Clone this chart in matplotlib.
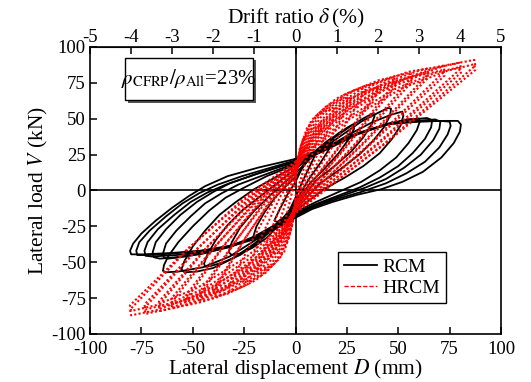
import matplotlib
matplotlib.use('Agg')
import matplotlib.pyplot as plt
from matplotlib.lines import Line2D
from matplotlib.patches import Rectangle

plt.rcParams['font.family'] = ['Liberation Serif', 'DejaVu Serif']
plt.rcParams['mathtext.fontset'] = 'stix'
plt.rcParams['axes.unicode_minus'] = False

# RCM specimen, hysteresis cycles (displacement mm, load kN)
rcm_c1_d = [0, 3, 6, 9, 9.3, 7, 3, 0, -3, -6, -9, -10.3, -8, -4, 0]
rcm_c1_v = [6, 15, 22, 26, 24, 17, 5, -5, -14, -19, -22, -21, -14, -3, 6]
rcm_c2_d = [0, 5, 10, 15, 18, 18.5, 16, 12, 7, 0, -5, -10, -15, -19, -20.5, -19, -15, -10, -4, 0]
rcm_c2_v = [9, 19, 28, 34, 37, 35, 28, 19, 9, -8, -18, -26, -31, -34, -32, -25, -15, -5, 4, 9]
rcm_c3_d = [0, 7, 14, 21, 26, 28, 28.5, 26, 21, 14, 7, 0, -7, -14, -21, -27, -31, -32.5, -31, -27, -20, -12, -5, 0]
rcm_c3_v = [12, 22, 32, 40, 44.5, 46, 43, 36, 26, 15, 5, -10, -22, -33, -40, -44, -45, -43, -36, -26, -14, -3, 6, 12]
rcm_c4_d = [0, 9, 19, 28, 34, 38, 38.5, 37, 33, 27, 19, 10, 0, -9, -18, -27, -35, -41, -44, -44.5, -43, -39, -33, -26, -18, -9, 0]
rcm_c4_v = [15, 25, 37, 46, 51, 54, 52, 46, 37, 27, 17, 7, -12, -24, -36, -45, -50, -52.5, -53, -51, -45, -35, -24, -14, -5, 5, 15]
rcm_c5_d = [0, 10, 22, 32, 40, 45, 46.5, 46, 43, 38, 31, 22, 12, 0, -10, -20, -30, -40, -48, -54, -55.5, -54, -50, -44, -37, -29, -20, -10, 0]
rcm_c5_v = [17, 26, 38, 48, 54, 57.5, 57, 52, 44, 35, 25, 15, 5, -13, -25, -37, -47, -54, -56.5, -57, -55, -49, -39, -28, -17, -8, 1, 9, 17]
rcm_c6_d = [0, 12, 26, 38, 47, 52, 52.5, 51, 47, 41, 33, 24, 14, 0, -10, -20, -32, -45, -57, -63, -64.5, -64, -62, -57, -50, -42, -34, -25, -14, 0]
rcm_c6_v = [18, 27, 39, 48, 53, 55, 52, 45, 36, 26, 17, 9, 1, -14, -24, -35, -46, -53.5, -56.5, -57, -56, -52, -46, -36, -25, -14, -5, 2, 10, 18]
rcm_c7_d = [0, 13, 30, 44, 54, 60, 60.5, 59, 55, 49, 41, 32, 21, 10, 0, -10, -20, -32, -45, -56, -62, -64, -64.5, -63, -58, -51, -44, -36, -28, -15, 0]
rcm_c7_v = [19, 27, 39, 46, 49.5, 50, 48, 42, 33, 23, 14, 6, -1, -8, -15, -24, -32, -39, -44, -46.5, -47.5, -47, -44, -37, -28, -18, -9, -2, 4, 11, 19]
rcm_c8_d = [0, 13, 30, 45, 56, 64, 66.5, 66, 63, 57, 50, 41, 31, 20, 9, 0, -10, -20, -32, -46, -58, -66, -69, -69.5, -68, -63, -56, -48, -40, -32, -18, 0]
rcm_c8_v = [20, 27.5, 39.5, 46.5, 49.5, 50.5, 49, 44, 36, 26, 17, 9, 2, -4, -10, -16, -25, -33, -39.5, -44, -46.5, -47.5, -46.5, -43, -36, -27, -17, -8, -1, 5, 12, 20]
rcm_c9_d = [0, 13, 30, 45, 58, 68, 70.5, 70, 67, 61, 53, 44, 34, 22, 10, 0, -10, -20, -32, -46, -58, -70, -73, -73.5, -72, -67, -59, -51, -43, -34, -20, 0]
rcm_c9_v = [20, 27.5, 39.5, 46.5, 48.5, 49.5, 48, 43, 35, 25, 16, 8, 2, -4, -10, -17, -25.5, -33, -39, -43, -45, -46, -45.5, -42, -36, -27, -17, -8, -1.5, 4, 11, 20]
rcm_c10_d = [0, 13, 30, 45, 58, 70, 75, 75.5, 74, 70, 63, 54, 44, 32, 20, 8, 0, -10, -20, -32, -46, -60, -72, -77, -77.5, -76, -71, -63, -55, -47, -38, -26, -13, 0]
rcm_c10_v = [21, 28, 39.5, 46, 48, 48.5, 48, 45, 39, 30, 20, 12, 5, -1, -6, -12, -18, -26, -33, -38.5, -42, -44, -45, -45, -42, -36, -28, -18, -9, -2, 4, 10, 15.5, 21]
rcm_c11_d = [0, 13, 30, 46, 60, 72, 79, 80.5, 80, 77, 71, 62, 52, 42, 30, 18, 8, 0, -10, -20, -32, -46, -60, -74, -80, -80.5, -79, -75, -68, -60, -52, -44, -33, -18, 0]
rcm_c11_v = [22, 29, 40, 46.5, 48, 48.5, 48.5, 46, 41, 33, 23, 13, 6, 1, -3, -8, -13, -19, -27, -34, -39, -42, -43.5, -44.5, -44.5, -42, -37, -30, -21, -12, -4, 3, 10, 16, 22]

# HRCM specimen, first cycle at each drift level (displacement mm, load kN)
hrcm_c1_d = [0, 0.6, 1.8, 3.6, 5.1, 6, 6.5, 3, 0, -0.6, -1.8, -3.6, -5.1, -6, -6.5, -3.9, -1.8, 0]
hrcm_c1_v = [6, 16, 24, 28.5, 29.5, 30, 28.5, 10, -4, -15, -24, -28, -29.5, -30, -28.5, -14.5, -2, 6]
hrcm_c2_d = [0, 1.2, 3.6, 7.2, 10.2, 12, 12.5, 6, 0, -1.2, -3.6, -7.2, -10.2, -12, -12.5, -7.8, -3.6, 0]
hrcm_c2_v = [8, 23, 35.5, 42, 44.5, 45, 43, 16.5, -6, -21.5, -35, -42, -44, -45, -43, -22, -3.5, 8]
hrcm_c3_d = [0, 1.9, 5.7, 11.4, 16.2, 19, 19.5, 9.5, 0, -1.8, -5.4, -10.8, -15.3, -18, -18.5, -11.7, -5.4, 0]
hrcm_c3_v = [10, 28, 44, 53, 56, 57, 54.5, 21.5, -7, -25.5, -42.5, -51.5, -55, -56, -53.5, -27, -4.5, 10]
hrcm_c4_d = [0, 2.6, 7.8, 15.6, 22.1, 26, 26.5, 13, 0, -2.5, -7.5, -15, -21.2, -25, -25.5, -16.2, -7.5, 0]
hrcm_c4_v = [12, 31, 49, 59.5, 63.5, 65, 62, 25, -8, -28.5, -47, -58, -62.5, -64, -61, -31, -4.5, 12]
hrcm_c5_d = [0, 3.3, 9.9, 19.8, 28, 33, 33.5, 16.5, 0, -3.2, -9.6, -19.2, -27.2, -32, -32.5, -20.8, -9.6, 0]
hrcm_c5_v = [13, 33.5, 52, 64, 69.5, 71, 68, 27, -9, -30.5, -50, -62.5, -68, -70, -67, -34, -5, 13]
hrcm_c6_d = [0, 4, 12, 24, 34, 40, 40.5, 20, 0, -3.9, -11.7, -23.4, -33.2, -39, -39.5, -25.4, -11.7, 0]
hrcm_c6_v = [14, 34, 53.5, 67, 73, 75, 71.5, 28.5, -10, -31, -51.5, -65.5, -72, -74, -70.5, -35.5, -5.5, 14]
hrcm_c7_d = [0, 4.8, 14.4, 28.8, 40.8, 48, 48.5, 24, 0, -4.6, -13.8, -27.6, -39.1, -46, -46.5, -29.9, -13.8, 0]
hrcm_c7_v = [15, 35, 55.5, 70, 77, 79, 75.5, 30, -11, -31.5, -52.5, -68, -75, -77, -73.5, -37, -5, 15]
hrcm_c8_d = [0, 5.6, 16.8, 33.6, 47.6, 56, 56.5, 28, 0, -5.3, -15.9, -31.8, -45, -53, -53.5, -34.5, -15.9, 0]
hrcm_c8_v = [16, 35, 56.5, 72, 79.5, 82, 78.5, 31, -12, -31.5, -53.5, -70, -77.5, -80, -76.5, -38, -5, 16]
hrcm_c9_d = [0, 6.4, 19.2, 38.4, 54.4, 64, 64.5, 32, 0, -6, -18, -36, -51, -60, -60.5, -39, -18, 0]
hrcm_c9_v = [17, 35.5, 57, 74, 82.5, 85, 81, 32, -13, -32, -53.5, -70.5, -79, -82, -78.5, -39, -5, 17]
hrcm_c10_d = [0, 7.2, 21.6, 43.2, 61.2, 72, 72.5, 36, 0, -6.6, -19.8, -39.6, -56.1, -66, -66.5, -42.9, -19.8, 0]
hrcm_c10_v = [18, 35.5, 57, 75, 84, 87, 83, 32.5, -14, -32, -53.5, -72, -81, -84, -80, -39.5, -4.5, 18]
hrcm_c11_d = [0, 8, 24, 48, 68, 80, 80.5, 40, 0, -7.3, -21.9, -43.8, -62, -73, -73.5, -47.5, -21.9, 0]
hrcm_c11_v = [19, 36, 57, 75.5, 85.5, 89, 85, 33, -15, -32, -53.5, -72.5, -82.5, -86, -82, -40.5, -4.5, 19]
hrcm_c12_d = [0, 8.7, 26.1, 52.2, 74, 87, 87.5, 43.5, 0, -8, -24, -48, -68, -80, -80.5, -52, -24, 0]
hrcm_c12_v = [20, 35.5, 57, 77, 87.5, 91, 87, 33, -16, -31.5, -53, -73, -83.5, -87, -83, -40.5, -4, 20]

# HRCM repeated cycles at the larger drift levels
hrcm_r6_d = [0, 4, 12, 24, 34, 40, 40.5, 20, 0, -3.9, -11.7, -23.4, -33.2, -39, -39.5, -25.4, -11.7, 0]
hrcm_r6_v = [11, 28, 47, 62, 69.5, 72, 69, 27.5, -9, -26.5, -45.5, -61, -68.5, -71, -68, -35, -7, 11]
hrcm_r7_d = [0, 4.8, 14.4, 28.8, 40.8, 48, 48.5, 24, 0, -4.6, -13.8, -27.6, -39.1, -46, -46.5, -29.9, -13.8, 0]
hrcm_r7_v = [12, 28.5, 48.5, 65, 73, 76, 72.5, 29, -10, -26.5, -46.5, -63, -71, -74, -70.5, -36.5, -7, 12]
hrcm_r8_d = [0, 5.6, 16.8, 33.6, 47.6, 56, 56.5, 28, 0, -5.3, -15.9, -31.8, -45, -53, -53.5, -34.5, -15.9, 0]
hrcm_r8_v = [13, 29, 49.5, 67, 76, 79, 75.5, 30, -11, -27, -47.5, -65, -74, -77, -73.5, -37.5, -6.5, 13]
hrcm_r9_d = [0, 6.4, 19.2, 38.4, 54.4, 64, 64.5, 32, 0, -6, -18, -36, -51, -60, -60.5, -39, -18, 0]
hrcm_r9_v = [14, 29.5, 49.5, 68.5, 78.5, 82, 78.5, 31, -12, -27, -47, -66, -75.5, -79, -75.5, -38.5, -6.5, 14]
hrcm_r10_d = [0, 7.2, 21.6, 43.2, 61.2, 72, 72.5, 36, 0, -6.6, -19.8, -39.6, -56.1, -66, -66.5, -42.9, -19.8, 0]
hrcm_r10_v = [15, 29, 50, 70, 80.5, 84, 80, 31.5, -13, -27, -47.5, -67, -77.5, -81, -77.5, -39, -6, 15]
hrcm_r11_d = [0, 8, 24, 48, 68, 80, 80.5, 40, 0, -7.3, -21.9, -43.8, -62, -73, -73.5, -47.5, -21.9, 0]
hrcm_r11_v = [16, 29.5, 49.5, 70.5, 82, 86, 82, 32, -14, -27, -47, -68, -79, -83, -79.5, -40, -6, 16]
hrcm_r12_d = [0, 8.7, 26.1, 52.2, 74, 87, 87.5, 43.5, 0, -8, -24, -48, -68, -80, -80.5, -52, -24, 0]
hrcm_r12_v = [17, 29, 49.5, 71.5, 83.5, 88, 84, 32.5, -15, -26.5, -46.5, -68, -80, -84, -80, -40, -5.5, 17]

rcm_cycles = [
    (rcm_c1_d, rcm_c1_v), (rcm_c2_d, rcm_c2_v), (rcm_c3_d, rcm_c3_v),
    (rcm_c4_d, rcm_c4_v), (rcm_c5_d, rcm_c5_v), (rcm_c6_d, rcm_c6_v),
    (rcm_c7_d, rcm_c7_v), (rcm_c8_d, rcm_c8_v), (rcm_c9_d, rcm_c9_v),
    (rcm_c10_d, rcm_c10_v), (rcm_c11_d, rcm_c11_v),
]
hrcm_cycles = [
    (hrcm_c1_d, hrcm_c1_v), (hrcm_c2_d, hrcm_c2_v), (hrcm_c3_d, hrcm_c3_v),
    (hrcm_c4_d, hrcm_c4_v), (hrcm_c5_d, hrcm_c5_v), (hrcm_c6_d, hrcm_c6_v),
    (hrcm_r6_d, hrcm_r6_v), (hrcm_c7_d, hrcm_c7_v), (hrcm_r7_d, hrcm_r7_v),
    (hrcm_c8_d, hrcm_c8_v), (hrcm_r8_d, hrcm_r8_v), (hrcm_c9_d, hrcm_c9_v),
    (hrcm_r9_d, hrcm_r9_v), (hrcm_c10_d, hrcm_c10_v), (hrcm_r10_d, hrcm_r10_v),
    (hrcm_c11_d, hrcm_c11_v), (hrcm_r11_d, hrcm_r11_v), (hrcm_c12_d, hrcm_c12_v),
    (hrcm_r12_d, hrcm_r12_v),
]

fig = plt.figure(figsize=(5.31, 3.82), dpi=100)
ax = fig.add_axes([0.1695, 0.1257, 0.774, 0.7513])

for d, v in rcm_cycles:
    ax.plot(d, v, color='black', lw=1.3, zorder=2)
for d, v in hrcm_cycles:
    ax.plot(d, v, color='red', lw=1.5, linestyle=(0, (1, 1.1)), zorder=3)

ax.axhline(0, color='black', lw=1.2, zorder=1)
ax.axvline(0, color='black', lw=1.2, zorder=1)

ax.set_xlim(-100, 100)
ax.set_ylim(-100, 100)
ax.set_xticks(range(-100, 101, 25))
ax.set_yticks(range(-100, 101, 25))
ax.tick_params(direction='in', length=5, width=1.1, labelsize=13.5, top=False, right=False)
ax.tick_params(axis='x', pad=5)
ax.tick_params(axis='y', pad=3)
for s in ax.spines.values():
    s.set_linewidth(1.2)

ax.set_xlabel(r'Lateral displacement $D$ (mm)', fontsize=15.5, labelpad=-1)
ax.set_ylabel(r'Lateral load $V$ (kN)', fontsize=15.5, labelpad=1)

# drift ratio on top, 2000 mm height
top = ax.secondary_xaxis('top', functions=(lambda d: d / 20, lambda r: r * 20))
top.set_xticks(range(-5, 6))
top.tick_params(direction='in', length=5, width=1.1, labelsize=13.5, pad=1)
top.set_xlabel(r'Drift ratio $\delta\,$(%)', fontsize=15.5, labelpad=4)

# ratio note with shadow box
ax.add_patch(Rectangle((0.093, 0.805), 0.312, 0.148, transform=ax.transAxes,
                       facecolor='#555555', edgecolor='none', zorder=4))
ax.add_patch(Rectangle((0.085, 0.815), 0.312, 0.148, transform=ax.transAxes,
                       facecolor='white', edgecolor='black', lw=1.0, zorder=5))
ax.text(0.241, 0.889, r'$\rho_{\mathrm{CFRP}}/\rho_{\mathrm{All}}$=23%', transform=ax.transAxes,
        ha='center', va='center', fontsize=15, zorder=6)

handles = [Line2D([], [], color='black', lw=1.3),
           Line2D([], [], color='red', lw=1.0, linestyle=(0, (3, 1.5)))]
leg = ax.legend(handles, ['RCM', 'HRCM'], loc='lower left', bbox_to_anchor=(0.603, 0.108),
                fontsize=14, frameon=True, fancybox=False, framealpha=1,
                handlelength=1.7, handletextpad=0.3, borderpad=0.3, labelspacing=0.2,
                borderaxespad=0)
leg.get_frame().set_edgecolor('black')
leg.get_frame().set_linewidth(1.0)

fig.savefig('out.png', dpi=100)
